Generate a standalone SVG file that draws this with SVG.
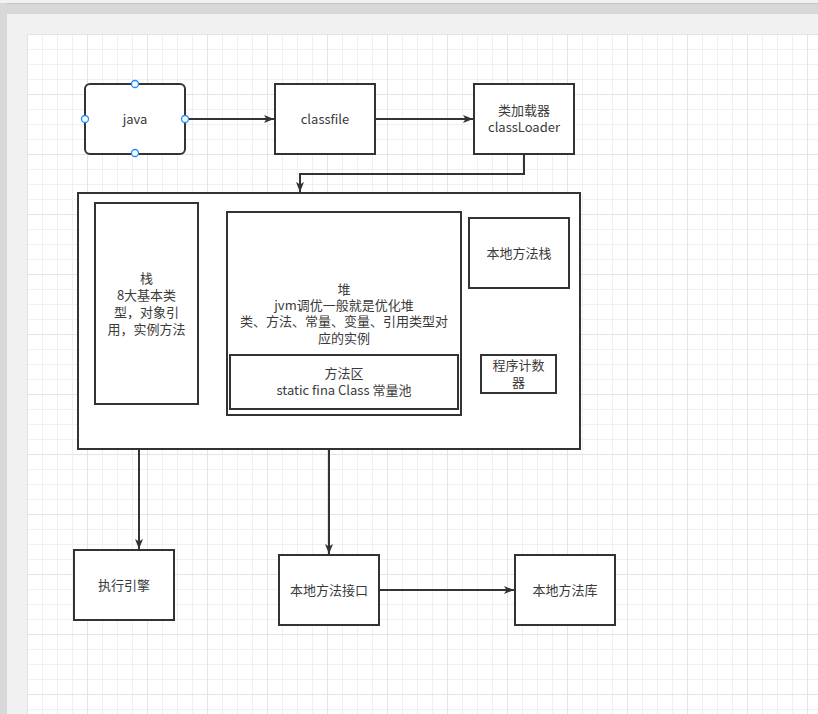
<svg xmlns="http://www.w3.org/2000/svg" width="818" height="714" viewBox="0 0 818 714">
<defs>
<pattern id="minor" x="27" y="34" width="15" height="15" patternUnits="userSpaceOnUse">
<path d="M0 0.5H15M0.5 0V15" fill="none" stroke="#f0f0f0" stroke-width="1"/>
</pattern>
<pattern id="major" x="27" y="34" width="60" height="60" patternUnits="userSpaceOnUse">
<path d="M0 0.5H60M0.5 0V60" fill="none" stroke="#e4e4e4" stroke-width="1"/>
</pattern>
<marker id="arr" viewBox="0 0 10 8" refX="10" refY="4" markerWidth="10" markerHeight="8" markerUnits="userSpaceOnUse" orient="auto">
<path d="M0 0L10 4L0 8L2.5 4Z" fill="#333333"/>
</marker>
</defs>
<style>
.box{fill:#ffffff;stroke:#333333;stroke-width:2}
.lbl{font-family:"Noto Sans CJK SC","Liberation Sans",sans-serif;font-size:13px;fill:#3a3a3a;text-anchor:middle}
.edge{fill:none;stroke:#333333;stroke-width:2}
.handle{fill:#ffffff;stroke:#1a8cff;stroke-width:1.3}
</style>
<rect x="0" y="0" width="818" height="714" fill="#f1f1f1"/>
<rect x="0" y="3" width="818" height="11" fill="#d8d8d8"/>
<line x1="0" y1="3.5" x2="818" y2="3.5" stroke="#c4c4c4"/>
<rect x="0" y="3" width="7" height="711" fill="#d8d8d8"/>
<rect x="27" y="34" width="791" height="680" fill="#ffffff"/>
<rect x="27" y="34" width="791" height="680" fill="url(#minor)"/>
<rect x="27" y="34" width="791" height="680" fill="url(#major)"/>

<g id="connectors">
<path class="edge" d="M185 119H274" marker-end="url(#arr)"/>
<path class="edge" d="M375 119H473" marker-end="url(#arr)"/>
<path class="edge" d="M524 154V174H300V192" marker-end="url(#arr)"/>
<path class="edge" d="M139 449V549" marker-end="url(#arr)"/>
<path class="edge" d="M329 449V554" marker-end="url(#arr)"/>
<path class="edge" d="M379 590H514" marker-end="url(#arr)"/>
</g>

<g id="node-java">
<rect class="box" x="85" y="84" width="100" height="70" rx="5"/>
<text class="lbl" x="135" y="124">java</text>
<circle class="handle" cx="135" cy="84" r="3.5"/>
<circle class="handle" cx="185" cy="119" r="3.5"/>
<circle class="handle" cx="135" cy="153" r="3.5"/>
<circle class="handle" cx="85" cy="119" r="3.5"/>
</g>
<g id="node-classfile">
<rect class="box" x="275" y="84" width="100" height="70"/>
<text class="lbl" x="325" y="124">classfile</text>
</g>
<g id="node-classloader">
<rect class="box" x="474" y="84" width="100" height="70"/>
<text class="lbl" x="524" y="115">类加载器</text>
<text class="lbl" x="524" y="132">classLoader</text>
</g>
<g id="node-runtime">
<rect class="box" x="78" y="193" width="502" height="256"/>
</g>
<g id="node-stack">
<rect class="box" x="95" y="203" width="103" height="201"/>
<text class="lbl" x="146.5" y="283">栈</text>
<text class="lbl" x="146.5" y="300">8大基本类</text>
<text class="lbl" x="146.5" y="317">型，对象引</text>
<text class="lbl" x="146.5" y="334">用，实例方法</text>
</g>
<g id="node-heap">
<rect class="box" x="227" y="212" width="234" height="203"/>
<text class="lbl" x="344" y="294">堆</text>
<text class="lbl" x="344" y="310">jvm调优一般就是优化堆</text>
<text class="lbl" x="344" y="326">类、方法、常量、变量、引用类型对</text>
<text class="lbl" x="344" y="343">应的实例</text>
</g>
<g id="node-method-area">
<rect class="box" x="230" y="355" width="228" height="54"/>
<text class="lbl" x="344" y="378">方法区</text>
<text class="lbl" x="344" y="395">static fina Class 常量池</text>
</g>
<g id="node-native-stack">
<rect class="box" x="469" y="218" width="100" height="70"/>
<text class="lbl" x="519" y="258">本地方法栈</text>
</g>
<g id="node-pc">
<rect class="box" x="481" y="355" width="75" height="38"/>
<text class="lbl" x="518.5" y="370">程序计数</text>
<text class="lbl" x="518.5" y="387">器</text>
</g>
<g id="node-engine">
<rect class="box" x="74" y="550" width="100" height="70"/>
<text class="lbl" x="124" y="590">执行引擎</text>
</g>
<g id="node-native-interface">
<rect class="box" x="279" y="555" width="100" height="70"/>
<text class="lbl" x="329" y="595">本地方法接口</text>
</g>
<g id="node-native-lib">
<rect class="box" x="515" y="555" width="100" height="70"/>
<text class="lbl" x="565" y="595">本地方法库</text>
</g>
</svg>
